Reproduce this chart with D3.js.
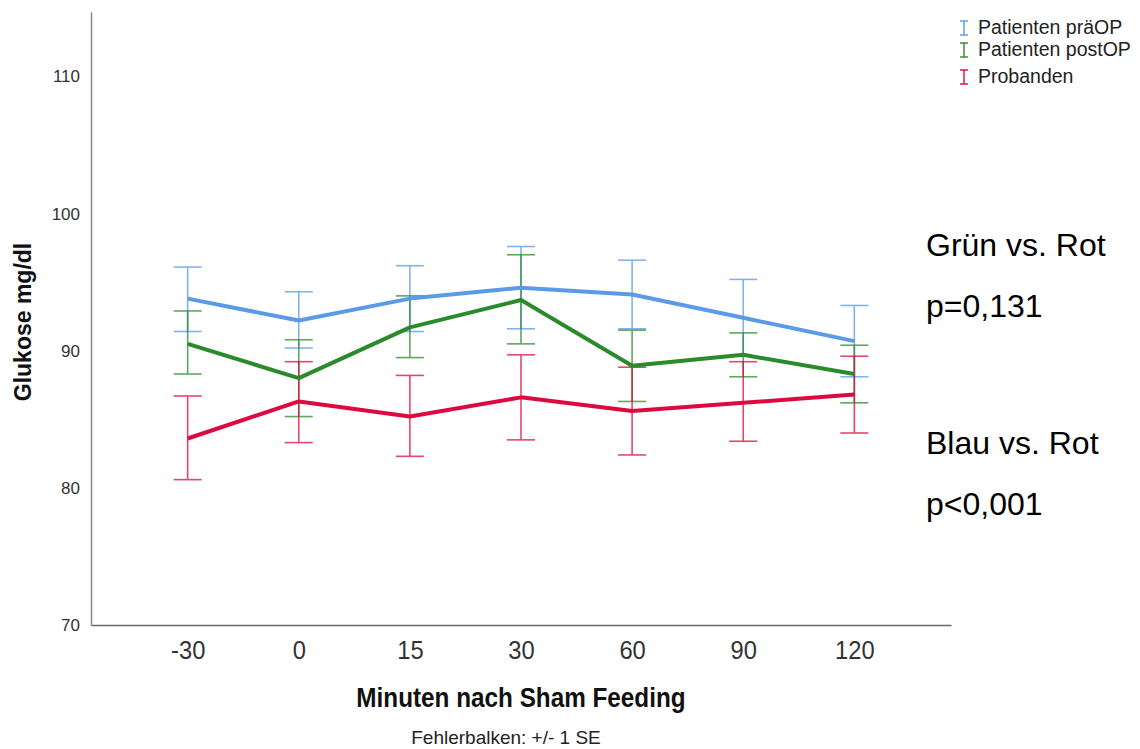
<!DOCTYPE html>
<html>
<head>
<meta charset="utf-8">
<script src="https://cdn.jsdelivr.net/npm/d3@7"></script>
<style>
  body { margin: 0; background: #fff; }
  svg text { font-family: "Liberation Sans", Arial, sans-serif; }
  .annot { font-size: 32px; fill: #000; }
</style>
</head>
<body>
<div class="chart"></div>
<script>
// Data
let times = ["-30", "0", "15", "30", "60", "90", "120"];
let seriesNames = ["Patienten präOP", "Patienten postOP", "Probanden"];
let seriesColors = ["#5a9ae6", "#2b8a2b", "#dc0a3e"];

let praeMean = [93.8, 92.2, 93.8, 94.6, 94.1, 92.4, 90.7];
let praeLow  = [91.4, 90.2, 91.4, 91.6, 91.6, 89.6, 88.1];
let praeHigh = [96.1, 94.3, 96.2, 97.6, 96.6, 95.2, 93.3];

let postMean = [90.5, 88.0, 91.7, 93.7, 88.9, 89.7, 88.3];
let postLow  = [88.3, 85.2, 89.5, 90.5, 86.3, 88.1, 86.2];
let postHigh = [92.9, 90.8, 94.0, 97.0, 91.5, 91.3, 90.4];

let probMean = [83.6, 86.3, 85.2, 86.6, 85.6, 86.2, 86.8];
let probLow  = [80.6, 83.3, 82.3, 83.5, 82.4, 83.4, 84.0];
let probHigh = [86.7, 89.2, 88.2, 89.7, 88.8, 89.2, 89.6];

let yTicks = [70, 80, 90, 100, 110];

let series = [
  { name: seriesNames[0], color: seriesColors[0], mean: praeMean, low: praeLow, high: praeHigh },
  { name: seriesNames[1], color: seriesColors[1], mean: postMean, low: postLow, high: postHigh },
  { name: seriesNames[2], color: seriesColors[2], mean: probMean, low: probLow, high: probHigh }
];

// Set up chart
let svgWidth = 1140;
let svgHeight = 749;
let plot = { left: 91, right: 951, top: 12, bottom: 625 };

let svg = d3.select(".chart")
  .append("svg")
  .attr("width", svgWidth)
  .attr("height", svgHeight);

let x = d3.scalePoint()
  .domain(times)
  .range([plot.left, plot.right])
  .padding(0.87);

let y = d3.scaleLinear()
  .domain([70, 114.7])
  .range([plot.bottom, plot.top]);

// Axes
let leftAxis = d3.axisLeft(y).tickValues(yTicks).tickSize(0).tickPadding(11);
let gy = svg.append("g")
  .attr("transform", `translate(${plot.left},0)`)
  .call(leftAxis);
gy.select(".domain").attr("stroke", "#8a8a8a").attr("stroke-width", 1.5);
gy.selectAll("text").attr("font-size", 17).attr("fill", "#333")
  .style("font-family", "'Liberation Sans', Arial, sans-serif");

let bottomAxis = d3.axisBottom(x).tickSize(0).tickPadding(0);
let gx = svg.append("g")
  .attr("transform", `translate(0,${plot.bottom})`)
  .call(bottomAxis);
gx.select(".domain").attr("stroke", "#6a6a6a").attr("stroke-width", 1.5);
gx.selectAll("text")
  .attr("font-size", 25)
  .attr("fill", "#333")
  .attr("dy", 0)
  .attr("y", 34)
  .attr("transform", "scale(0.95,1)");

// Error bars
let capW = 14;
series.forEach(function(s) {
  let g = svg.append("g")
    .attr("stroke", s.color)
    .attr("stroke-width", 1.6)
    .attr("opacity", 0.75);
  times.forEach(function(t, i) {
    let cx = x(t);
    g.append("line").attr("x1", cx).attr("x2", cx).attr("y1", y(s.low[i])).attr("y2", y(s.high[i]));
    g.append("line").attr("x1", cx - capW).attr("x2", cx + capW).attr("y1", y(s.low[i])).attr("y2", y(s.low[i]));
    g.append("line").attr("x1", cx - capW).attr("x2", cx + capW).attr("y1", y(s.high[i])).attr("y2", y(s.high[i]));
  });
});

// Mean lines
let line = d3.line()
  .x(function(d, i) { return x(times[i]); })
  .y(function(d) { return y(d); });

series.forEach(function(s) {
  svg.append("path")
    .datum(s.mean)
    .attr("fill", "none")
    .attr("stroke", s.color)
    .attr("stroke-width", 4)
    .attr("stroke-linejoin", "round")
    .attr("d", line);
});

// Legend
let legendY = [28, 50, 77];
series.forEach(function(s, i) {
  let ly = legendY[i];
  let lg = svg.append("g").attr("stroke", s.color).attr("stroke-width", 1.4);
  lg.append("line").attr("x1", 964).attr("x2", 964).attr("y1", ly - 7).attr("y2", ly + 7);
  lg.append("line").attr("x1", 960).attr("x2", 968).attr("y1", ly - 7).attr("y2", ly - 7);
  lg.append("line").attr("x1", 960).attr("x2", 968).attr("y1", ly + 7).attr("y2", ly + 7);
  svg.append("text")
    .attr("x", 978)
    .attr("y", ly + 6)
    .attr("font-size", 19.5)
    .attr("fill", "#222")
    .text(s.name);
});

// Axis titles
svg.append("text")
  .attr("transform", "translate(31,322) rotate(-90)")
  .attr("text-anchor", "middle")
  .attr("font-size", 23)
  .attr("font-weight", "bold")
  .attr("fill", "#111")
  .text("Glukose mg/dl");

svg.append("text")
  .attr("transform", "translate(521,707) scale(0.9,1)")
  .attr("text-anchor", "middle")
  .attr("font-size", 27)
  .attr("font-weight", "bold")
  .attr("fill", "#111")
  .text("Minuten nach Sham Feeding");

svg.append("text")
  .attr("x", 506)
  .attr("y", 744)
  .attr("text-anchor", "middle")
  .attr("font-size", 19)
  .attr("fill", "#222")
  .text("Fehlerbalken: +/- 1 SE");

// Annotations
let notes = [
  { text: "Grün vs. Rot", y: 256 },
  { text: "p=0,131", y: 317 },
  { text: "Blau vs. Rot", y: 454 },
  { text: "p<0,001", y: 515 }
];
notes.forEach(function(n) {
  svg.append("text")
    .attr("class", "annot")
    .attr("x", 926)
    .attr("y", n.y)
    .text(n.text);
});
</script>
</body>
</html>
